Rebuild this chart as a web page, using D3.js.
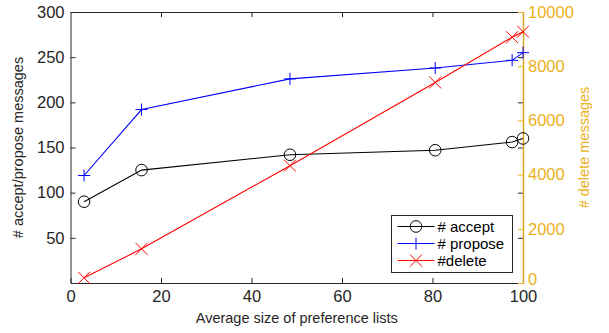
<!DOCTYPE html>
<html>
<head>
<meta charset="utf-8">
<script src="https://cdn.jsdelivr.net/npm/d3@7"></script>
<style>
  body { margin: 0; background: #fff; }
  svg text { font-family: "Liberation Sans", Arial, Helvetica, sans-serif; }
</style>
</head>
<body>
<svg id="chart" width="609" height="333"></svg>
<script>
// data
const listSize = [3, 15.7, 48.5, 80.6, 97.6, 100];
const accept = [90, 125, 142, 147, 156, 160];
const propose = [119, 192, 226, 238, 246.5, 255];
const deletes = [190, 1260, 4330, 7400, 9070, 9275];

const xTicks = [0, 20, 40, 60, 80, 100];
const leftTicks = [50, 100, 150, 200, 250, 300];
const rightTicks = [0, 2000, 4000, 6000, 8000, 10000];

const svg = d3.select("#chart"),
      margin = {top: 12, right: 86, bottom: 50, left: 70.5},
      width = 609 - margin.left - margin.right,
      height = 333 - margin.top - margin.bottom;

const axisCol = "#262626", gold = "#EDB120", goldLine = "#D9A424";

const chart = svg.append("g")
                 .attr("transform", `translate(${margin.left},${margin.top})`);

const x = d3.scaleLinear().domain([0, 100]).range([0, width]);
const yL = d3.scaleLinear().domain([0, 300]).range([height, 0]);
const yR = d3.scaleLinear().domain([0, 10000]).range([height, 0]);

// axes (ticks pointing inward, matlab style box)
function styleAxis(g, col) {
    g.select(".domain").attr("stroke", col).attr("stroke-width", 1);
    g.selectAll(".tick line").attr("stroke", col).attr("stroke-width", 1);
    g.selectAll(".tick text").attr("fill", col).style("font-size", "16.5px");
}

chart.append("g")
     .attr("transform", `translate(0,${height})`)
     .call(d3.axisBottom(x).tickValues(xTicks).tickSizeInner(-5).tickSizeOuter(0).tickPadding(7))
     .call(g => styleAxis(g, axisCol));

chart.append("g")
     .call(d3.axisTop(x).tickValues(xTicks.slice(1, 5)).tickSizeInner(-5).tickSizeOuter(0).tickFormat(""))
     .call(g => styleAxis(g, axisCol));

chart.append("g")
     .call(d3.axisLeft(yL).tickValues(leftTicks).tickSizeInner(-5).tickSizeOuter(0).tickPadding(6))
     .call(g => styleAxis(g, axisCol));

// mirrored left ticks on right side
chart.append("g")
     .attr("transform", `translate(${width},0)`)
     .call(d3.axisRight(yL).tickValues(leftTicks.slice(0, 5)).tickSizeInner(-5).tickSizeOuter(0).tickFormat(""))
     .call(g => styleAxis(g, axisCol))
     .select(".domain").remove();

chart.append("g")
     .attr("transform", `translate(${width},0)`)
     .call(d3.axisRight(yR).tickValues(rightTicks).tickSizeInner(-5).tickSizeOuter(0)
                           .tickPadding(5).tickFormat(d3.format("d")))
     .call(g => styleAxis(g, gold))
     .call(g => g.select(".domain").attr("stroke", goldLine).attr("stroke-width", 1.5))
     .call(g => g.selectAll(".tick text").filter(d => d === 0).attr("dy", "0.1em"));

// axis titles
chart.append("text")
     .attr("x", width / 2)
     .attr("y", height + 40)
     .attr("text-anchor", "middle")
     .attr("fill", axisCol)
     .style("font-size", "14.5px")
     .text("Average size of preference lists");

chart.append("text")
     .attr("transform", `translate(${-48},${height / 2}) rotate(-90)`)
     .attr("text-anchor", "middle")
     .attr("fill", axisCol)
     .style("font-size", "14.5px")
     .text("# accept/propose messages");

chart.append("text")
     .attr("transform", `translate(${width + 66},${height / 2}) rotate(-90)`)
     .attr("text-anchor", "middle")
     .attr("fill", gold)
     .style("font-size", "14.5px")
     .text("# delete messages");

// series
const series = [
    {name: "# accept", vals: accept, y: yL, color: "#000000", marker: "circle"},
    {name: "# propose", vals: propose, y: yL, color: "#0000FF", marker: "plus"},
    {name: "#delete", vals: deletes, y: yR, color: "#FF0000", marker: "cross"}
];

function drawMarker(g, type, cx, cy, color) {
    const s = 6;
    if (type === "circle") {
        g.append("circle").attr("cx", cx).attr("cy", cy).attr("r", 5.8)
         .attr("fill", "none").attr("stroke", color).attr("stroke-width", 1);
    } else if (type === "plus") {
        g.append("path").attr("d", `M${cx - s},${cy}H${cx + s}M${cx},${cy - s}V${cy + s}`)
         .attr("stroke", color).attr("stroke-width", 1).attr("fill", "none");
    } else {
        g.append("path").attr("d", `M${cx - s},${cy - s}L${cx + s},${cy + s}M${cx - s},${cy + s}L${cx + s},${cy - s}`)
         .attr("stroke", color).attr("stroke-width", 1).attr("fill", "none");
    }
}

series.forEach(sr => {
    const pts = listSize.map((v, i) => [x(v), sr.y(sr.vals[i])]);
    chart.append("path")
         .attr("d", d3.line()(pts))
         .attr("fill", "none")
         .attr("stroke", sr.color)
         .attr("stroke-width", 1.1);
    const mg = chart.append("g");
    pts.forEach(p => drawMarker(mg, sr.marker, p[0], p[1], sr.color));
});

// legend
const lg = svg.append("g").attr("transform", "translate(391.5,215.5)");
lg.append("rect").attr("width", 121).attr("height", 57)
  .attr("fill", "#fff").attr("stroke", axisCol).attr("stroke-width", 1);
series.forEach((sr, i) => {
    const cy = 11 + i * 17;
    lg.append("line").attr("x1", 6).attr("x2", 43).attr("y1", cy).attr("y2", cy)
      .attr("stroke", sr.color).attr("stroke-width", 1.1);
    drawMarker(lg, sr.marker, 24.5, cy, sr.color);
    lg.append("text").attr("x", 46).attr("y", cy + 5)
      .attr("fill", "#000").style("font-size", "15px").text(sr.name);
});
</script>
</body>
</html>
